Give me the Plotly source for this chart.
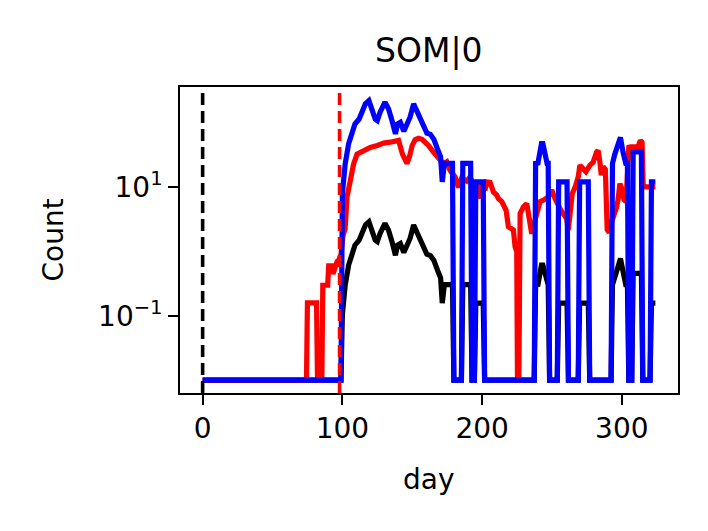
import plotly.graph_objects as go

# ---------------------------
# Data (day, count)
# ---------------------------
# blue series and the black series share the same day grid
step_days = [0, 99, 100, 101, 102, 104.5, 107, 109, 112, 114, 116.5, 119, 121, 123.5,
             125, 127, 130.5, 133, 135.5, 138, 139.5, 141.5, 144, 146, 148.5, 151,
             153.5, 155.7, 158, 160.5, 163, 165.5, 168, 170.3, 171.5, 173, 178.8,
             179.8, 185.2, 186.2, 191.8, 192.8, 194.5, 195.5, 200.8, 201.8, 237.3,
             238.3, 240, 241.3, 242.5, 243.5, 245, 246.5, 247.3, 248.3, 253.8, 254.8,
             260.8, 261.8, 268.8, 269.8, 276, 277, 292.3, 293.3, 295, 297.3, 299,
             300.9, 302.8, 304, 305, 307.1, 308.1, 314, 315, 320.2, 321.2, 324]

blue_counts = [0.01, 0.01, 8, 15, 23, 48, 68, 97, 116, 157, 200, 225, 157, 116,
               110, 148, 212, 167, 110, 68, 97, 103, 75, 97, 125, 200,
               148, 125, 90, 70, 67, 56, 40, 30, 12.2, 23.6, 23.6,
               0.01, 0.01, 23.6, 23.6, 0.01, 0.01, 12.2, 12.2, 0.01, 0.01,
               23.6, 24, 35, 48, 48, 33, 23.6, 23.6, 0.01, 0.01, 12.2,
               12.2, 0.01, 0.01, 12.2, 12.2, 0.01, 0.01, 23.6, 33, 45, 60,
               35, 23.6, 23.6, 0.01, 0.01, 35.7, 35.7, 0.01, 0.01, 12.2, 12.2]

black_counts = [0.01, 0.01, 0.104, 0.195, 0.30, 0.62, 0.88, 1.26, 1.51, 2.04, 2.6, 2.92, 2.04, 1.51,
                1.43, 1.92, 2.75, 2.17, 1.43, 0.88, 1.26, 1.34, 0.97, 1.26, 1.62, 2.6,
                1.92, 1.62, 1.17, 0.91, 0.87, 0.73, 0.52, 0.39, 0.158, 0.306, 0.306,
                0.01, 0.01, 0.306, 0.306, 0.01, 0.01, 0.158, 0.158, 0.01, 0.01,
                0.306, 0.31, 0.455, 0.62, 0.62, 0.43, 0.306, 0.306, 0.01, 0.01, 0.158,
                0.158, 0.01, 0.01, 0.158, 0.158, 0.01, 0.01, 0.306, 0.43, 0.58, 0.78,
                0.455, 0.306, 0.306, 0.01, 0.01, 0.46, 0.46, 0.01, 0.01, 0.158, 0.158]

red_days = [0, 74.3, 75, 81.5, 82.2, 85.3, 86, 89.5, 90.2, 92.6, 93.3, 95, 96.2, 97.4,
            99, 100.5, 102, 103.3, 104.5, 105.7, 108, 110.5, 115, 120, 125, 129.5,
            134.3, 138, 140.2, 143, 145, 146.2, 148, 150, 152, 154.5, 157, 158,
            161.6, 165.2, 168.8, 172.4, 174.7, 177.1, 180.7, 181.9, 183.1, 185.4,
            189, 191.4, 195, 197.4, 198.5, 202.1, 203.3, 205.7, 208.1, 210.5, 211.7,
            214.1, 217.2, 218.8, 220.5, 222.4, 223.6, 224.8, 225.3, 226.3, 227.2,
            228.3, 229.6, 232, 234.3, 235.5, 237.9, 240.3, 241.5, 244, 247.4, 249.8,
            252.2, 256.9, 260.5, 261.7, 263, 264.5, 266.5, 268.8, 270, 272.4, 274.3,
            277.2, 279.5, 281.9, 283, 284.3, 285.3, 286.6, 288.2, 289.5, 291, 293,
            295, 296.2, 297.3, 298.6, 300.2, 301.6, 303, 305, 306.2, 311.5, 313.3,
            314.5, 315.3, 324]

red_counts = [0.01, 0.01, 0.16, 0.16, 0.01, 0.01, 0.30, 0.30, 0.60, 0.60, 0.45, 0.62, 0.70, 0.73,
              0.9, 1.8, 2.3, 7, 10, 12.8, 23, 33, 37.6, 42, 45, 49,
              50.6, 54, 54, 33, 25, 23.6, 30, 45, 55, 58, 56, 54,
              45, 35.4, 27.8, 23.3, 25, 18.4, 14.5, 10.9, 10, 14,
              12.5, 14.5, 10, 6.7, 11.3, 9, 12.2, 12, 8.5, 7.6, 6.7,
              6.0, 4.4, 2.45, 2.3, 2.17, 1.19, 1.0, 0.01, 0.01, 3.9,
              4.4, 5.0, 5.6, 2.3, 1.9, 3.1, 5.0, 6.0, 6.35, 7.1, 9.1,
              6.7, 4.2, 3.3, 2.17, 4, 8, 10, 14.6, 22.2, 20, 17.5,
              22.2, 24.7, 35.4, 37.6, 25, 15.5, 21, 19, 2.2, 2.0, 3,
              3.8, 4.9, 6.4, 11.5, 9.1, 6.4, 6, 42, 42.7, 42.7, 54,
              50, 10.2, 10.2]

# dashed reference lines (day)
start_day = 0
event_day = 98

ytick_vals = [0.1, 10]
ytick_text = ["10<sup>\u22121</sup>", "10<sup>1</sup>"]

# ---------------------------
# Figure
# ---------------------------
font = "DejaVu Sans"
fig = go.Figure()

fig.add_trace(go.Scatter(x=step_days, y=black_counts, mode="lines",
                         line=dict(color="black", width=5.2)))
fig.add_trace(go.Scatter(x=red_days, y=red_counts, mode="lines",
                         line=dict(color="red", width=5.2)))
fig.add_trace(go.Scatter(x=step_days, y=blue_counts, mode="lines",
                         line=dict(color="blue", width=5.2)))

fig.add_shape(type="line", xref="x", yref="paper", x0=start_day, x1=start_day, y0=0, y1=1,
              line=dict(color="black", width=3.6, dash="12px,6px"))
fig.add_shape(type="line", xref="x", yref="paper", x0=event_day, x1=event_day, y0=0, y1=1,
              line=dict(color="red", width=3.6, dash="12px,6px"))

# title and axis labels placed like matplotlib's
fig.add_annotation(text="SOM|0", xref="paper", yref="paper", x=0.5, y=1.12,
                   showarrow=False, font=dict(size=33, color="black", family=font),
                   xanchor="center", yanchor="middle")
fig.add_annotation(text="day", xref="paper", yref="paper", x=0.5, y=-0.283,
                   showarrow=False, font=dict(size=28, color="black", family=font),
                   xanchor="center", yanchor="middle")
fig.add_annotation(text="Count", xref="paper", yref="paper", x=-0.256, y=0.5,
                   showarrow=False, textangle=-90,
                   font=dict(size=28, color="black", family=font),
                   xanchor="center", yanchor="middle")

axis_style = dict(showline=True, mirror=True, linecolor="black", linewidth=2.2,
                  ticks="outside", ticklen=9.7, tickwidth=2.2, tickcolor="black",
                  showgrid=False, zeroline=False,
                  tickfont=dict(size=28, color="black", family=font))

fig.update_xaxes(range=[-16.2, 340.2], tickvals=[0, 100, 200, 300], **axis_style)
fig.update_yaxes(type="log", range=[-2.2, 2.563], tickvals=ytick_vals,
                 ticktext=ytick_text, **axis_style)

# the page body adds an 8px offset, so the margins are shifted to compensate
fig.update_layout(
    width=708, height=531, autosize=False,
    margin=dict(l=171.5, r=38, t=78.7, b=145.7),
    paper_bgcolor="white", plot_bgcolor="white",
    showlegend=False,
    font=dict(family=font, color="black"),
)

fig.write_html("out.html")
